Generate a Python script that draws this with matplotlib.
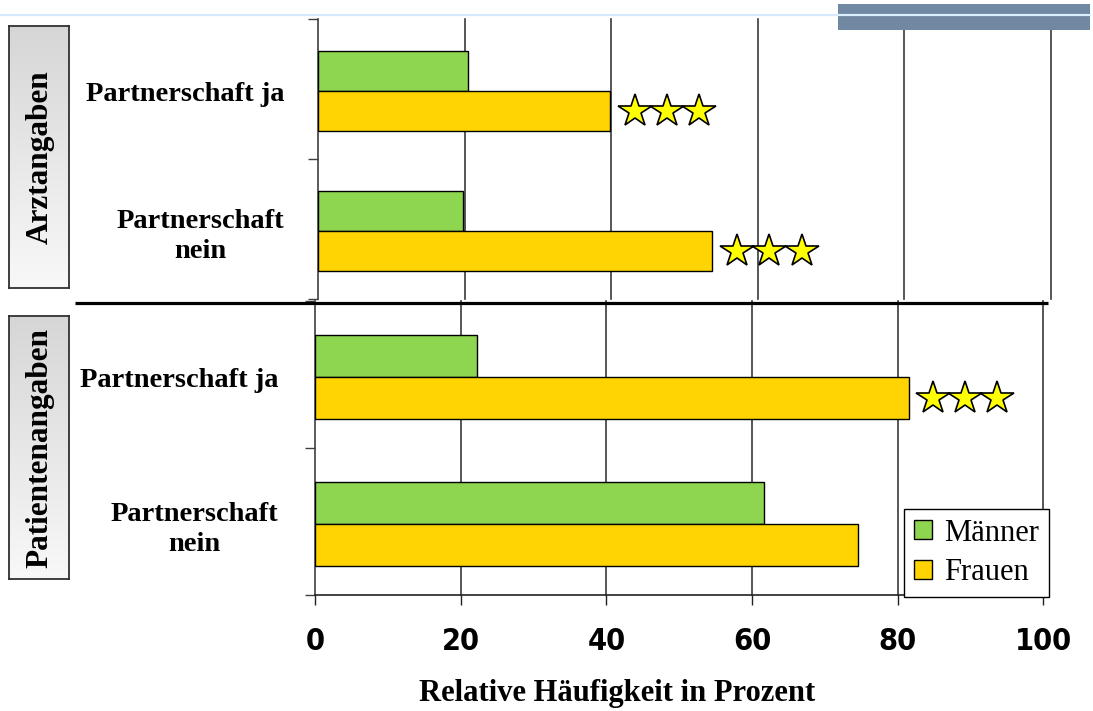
import matplotlib
matplotlib.use("Agg")
import matplotlib.pyplot as plt
import numpy as np
from matplotlib import font_manager
from matplotlib.font_manager import FontProperties
from matplotlib.lines import Line2D
from matplotlib.patches import Rectangle

# ---- data -------------------------------------------------------------
categories = ["Partnerschaft ja", "Partnerschaft\nnein"]
panel_titles = ["Arztangaben", "Patientenangaben"]
series_names = ["Männer", "Frauen"]
arzt_maenner = [20.4, 19.7]
arzt_frauen = [39.8, 53.8]
patient_maenner = [22.3, 61.6]
patient_frauen = [81.5, 74.6]
arzt_stars = [3, 3]
patient_stars = [3, 0]
x_ticks = [0, 20, 40, 60, 80, 100]
x_label = "Relative Häufigkeit in Prozent"

# ---- style ------------------------------------------------------------
W, H = 1093, 711
GREEN = "#8fd650"
YELLOW = "#ffd400"
STAR = "#ffff00"
GRID = "#3a3a3a"
SERIF = "Liberation Serif"


def narrow_bold_font(size):
    """a condensed bold sans face for the tick numbers, if one is installed"""
    cands = []
    for f in font_manager.fontManager.ttflist:
        low = f.fname.lower()
        if ("narrow" in low or "condensed" in low) and "bold" in low \
                and "oblique" not in low and "italic" not in low:
            cands.append(f.fname)
    pref = [c for c in cands if "liberationsansnarrow" in c.lower().replace("-", "")]
    pref += [c for c in cands if "dejavusanscondensed" in c.lower().replace("-", "")]
    pref += cands
    if pref:
        return FontProperties(fname=pref[0], size=size)
    return FontProperties(family="Liberation Sans", weight="bold", size=size - 2.5)


fig = plt.figure(figsize=(W / 100, H / 100), dpi=100)


def px_rect(x0, y0, x1, y1):
    """figure-fraction rectangle from pixel box (y measured from top)"""
    return [x0 / W, 1 - y1 / H, (x1 - x0) / W, (y1 - y0) / H]


def draw_panel(ax, men, women, stars, label_pad, show_xticks):
    y = np.arange(len(categories))
    h = 0.285
    shift = 0.02
    ax.barh(y + shift - h / 2, men, height=h, color=GREEN, edgecolor="black",
            linewidth=1.0, zorder=3, label=series_names[0])
    ax.barh(y + shift + h / 2, women, height=h, color=YELLOW, edgecolor="black",
            linewidth=1.0, zorder=3, label=series_names[1])
    offsets = [3.4, 7.8, 12.2]
    for i, n in enumerate(stars):
        for k in range(n):
            ax.plot(women[i] + offsets[k], y[i] + shift + h / 2, marker="*",
                    markersize=25, mfc=STAR, mec="black", mew=1.2,
                    zorder=5, clip_on=False)
    ax.set_xlim(0, 100)
    ax.set_ylim(len(categories) - 0.5, -0.5)
    ax.set_xticks(x_ticks)
    for xv in x_ticks[1:]:
        ax.axvline(xv, color=GRID, lw=1.2, zorder=1, clip_on=False)
    ax.set_yticks(y + shift)
    ax.set_yticklabels(categories, fontfamily=SERIF, fontweight="bold",
                       fontsize=20.5, multialignment="center", linespacing=1.25)
    ax.set_yticks(np.arange(len(categories) + 1) - 0.5, minor=True)
    ax.tick_params(axis="y", which="major", length=0, pad=label_pad)
    ax.tick_params(axis="y", which="minor", length=7.2, width=1.0,
                   color="#404040", direction="out")
    for s in ("top", "right"):
        ax.spines[s].set_visible(False)
    ax.spines["left"].set_color("#404040")
    ax.spines["left"].set_linewidth(1.2)
    if show_xticks:
        ax.spines["bottom"].set_color("#222222")
        ax.spines["bottom"].set_linewidth(1.2)
        ax.tick_params(axis="x", length=7.2, width=1.0, color="#222222",
                       pad=16)
        fp = narrow_bold_font(22)
        ax.set_xticklabels([str(t) for t in x_ticks], fontproperties=fp)
    else:
        ax.spines["bottom"].set_visible(False)
        ax.tick_params(axis="x", length=0, labelbottom=False)
    ax.set_facecolor("none")


# header decoration
fig.add_artist(Line2D([0, 1090 / W], [1 - 15 / H] * 2, color="#d6eafc", lw=1.6))
fig.add_artist(Rectangle((838 / W, 1 - 30 / H), 252 / W, 26 / H,
                         transform=fig.transFigure, color="#7088a2", lw=0))
fig.add_artist(Line2D([838 / W, 1090 / W], [1 - 15 / H] * 2, color="#dcefff", lw=1.4))

ax_top = fig.add_axes(px_rect(318.5, 18.5, 1050.5, 298.5))
draw_panel(ax_top, arzt_maenner, arzt_frauen, arzt_stars, 24.8, False)

ax_bot = fig.add_axes(px_rect(315, 300.5, 1043.3, 595))
draw_panel(ax_bot, patient_maenner, patient_frauen, patient_stars, 26.6, True)

# thick separator between the two panels
fig.add_artist(Line2D([75 / W, 1048 / W], [1 - 303 / H] * 2, color="black",
                      lw=2.3, solid_capstyle="butt"))

# side boxes with gradient fill
grad = np.linspace(0, 1, 256).reshape(-1, 1)
cmap = matplotlib.colors.LinearSegmentedColormap.from_list("g", ["#d6d6d6", "#f8f8f8"])
for title, (y0, y1) in zip(panel_titles, [(25.7, 288), (316, 579)]):
    bx = fig.add_axes(px_rect(9, y0, 69, y1))
    bx.imshow(grad, aspect="auto", cmap=cmap, extent=(0, 1, 0, 1), origin="upper")
    bx.set_xticks([])
    bx.set_yticks([])
    for s in bx.spines.values():
        s.set_color("#303030")
        s.set_linewidth(1.3)
    bx.text(0.52, 0.5, title, rotation=90, ha="center", va="center",
            fontfamily=SERIF, fontweight="bold", fontsize=22.5,
            transform=bx.transAxes)

# x label
fig.text(617 / W, 1 - 694 / H, x_label, ha="center", va="center",
         fontfamily=SERIF, fontweight="bold", fontsize=22)

# legend
handles, labels = ax_bot.get_legend_handles_labels()
leg = fig.legend(handles, labels, loc="lower left",
                 bbox_to_anchor=(904 / W, 1 - 597 / H), borderaxespad=0,
                 prop={"family": SERIF, "size": 22}, frameon=True,
                 fancybox=False, edgecolor="black", framealpha=1,
                 handlelength=0.58, handleheight=0.58, handletextpad=0.42,
                 borderpad=0.32, labelspacing=0.35)
leg.get_frame().set_linewidth(1.0)

fig.savefig("out.png", dpi=100)
